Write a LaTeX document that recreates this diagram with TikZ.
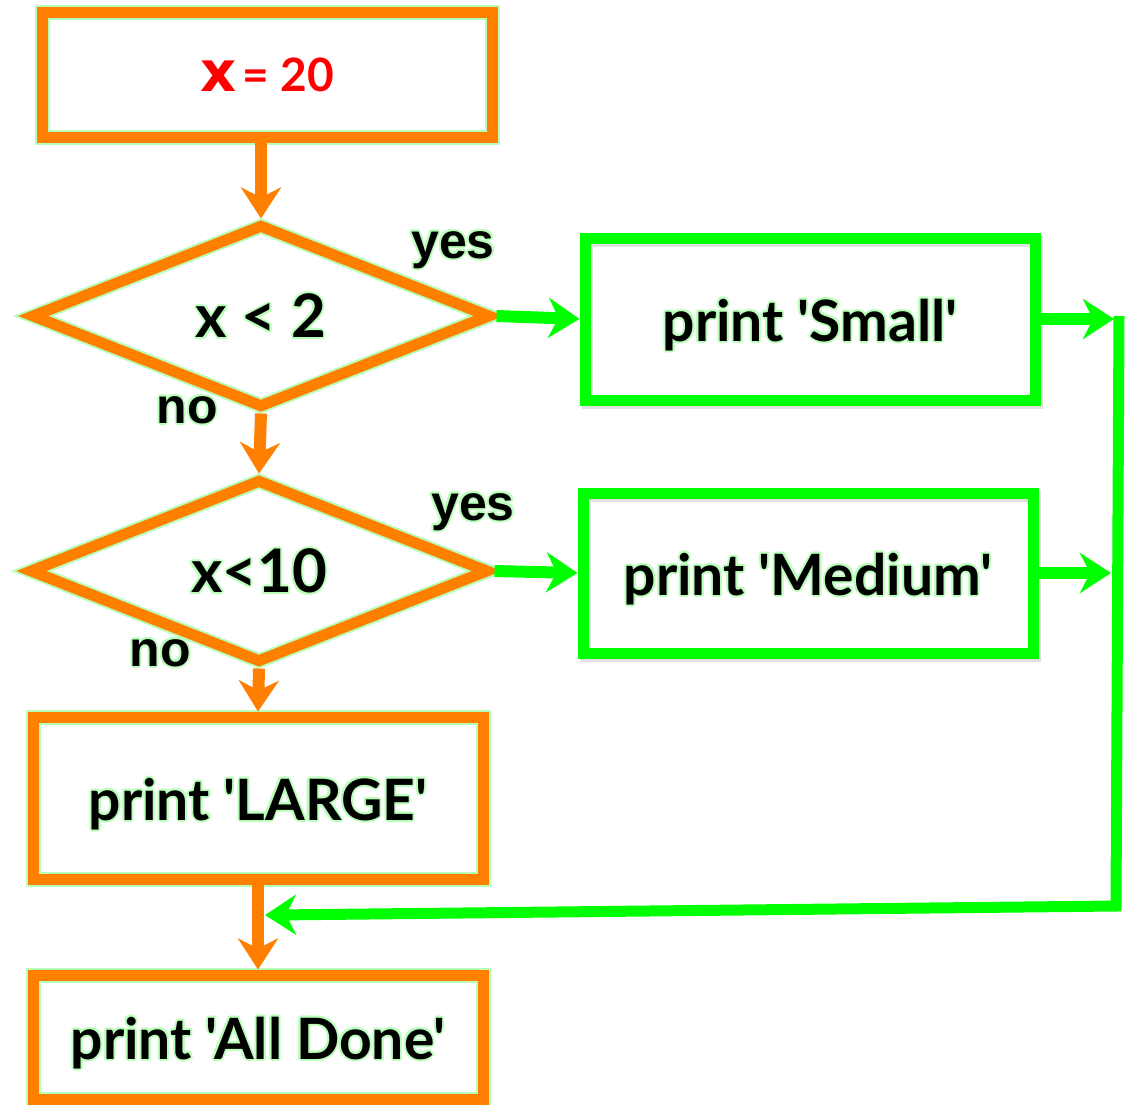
\documentclass[tikz,border=0pt]{standalone}
\usepackage{fontspec}
\usetikzlibrary{arrows.meta,shapes.geometric}
\newfontfamily\gill{Lato}
\newfontfamily\helv{Liberation Sans}
\newfontfamily\verd{DejaVu Sans}
\definecolor{orng}{RGB}{255,128,0}
\definecolor{grn}{RGB}{0,255,0}
\definecolor{halo}{RGB}{185,255,185}
\newcommand\halotxt[1]{\setbox0\hbox{#1}%
  \rlap{\kern1pt\textcolor{halo}{\copy0}}%
  \rlap{\kern-1pt\textcolor{halo}{\copy0}}%
  \rlap{\raisebox{1pt}{\textcolor{halo}{\copy0}}}%
  \rlap{\raisebox{-1pt}{\textcolor{halo}{\copy0}}}%
  \rlap{\kern.7pt\raisebox{.7pt}{\textcolor{halo}{\copy0}}}%
  \rlap{\kern-.7pt\raisebox{.7pt}{\textcolor{halo}{\copy0}}}%
  \rlap{\kern.7pt\raisebox{-.7pt}{\textcolor{halo}{\copy0}}}%
  \rlap{\kern-.7pt\raisebox{-.7pt}{\textcolor{halo}{\copy0}}}%
  \copy0}
\begin{document}
\begin{tikzpicture}[x=0.5pt,y=-0.5pt,
  obox/.style={draw=orng, line width=5.5pt, rectangle, inner sep=0pt, minimum width=225pt,
     preaction={draw=halo, line width=7.5pt}},
  gbox/.style={draw=grn, line width=5.5pt, rectangle, inner sep=0pt, minimum width=225pt,
     preaction={draw=black!12, line width=5.5pt, transform canvas={xshift=1pt,yshift=-1.5pt}}},
  decis/.style={draw=orng, line width=5.5pt, diamond, inner sep=0pt, aspect=2.5,
     minimum width=230pt, minimum height=92pt, preaction={draw=halo, line width=7.5pt}},
  tip/.tip={Stealth[length=15.5pt, width=20pt, inset=5pt]},
  oarr/.style={draw=orng, line width=6pt, -tip},
  garr/.style={draw=grn, line width=6pt, -tip},
  gline/.style={draw=grn, line width=5.5pt},
  big/.style={font=\gill\bfseries\fontsize{28.5}{31}\selectfont, text=black, text depth=0pt},
  cond/.style={font=\gill\bfseries\fontsize{30}{34}\selectfont, text=black},
  yn/.style={font=\helv\bfseries\fontsize{25}{28}\selectfont, text=black}]
\useasboundingbox (0,0) rectangle (1125,1104);
\fill[white] (0,0) rectangle (1125,1104);

\node[obox, minimum height=62.5pt] (top) at (267,74.5)
  {\textcolor{red}{{\verd\bfseries\fontsize{28}{30}\selectfont x} {\gill\bfseries\fontsize{23}{26}\selectfont = 20}}};
\node[decis, cond] (d1) at (261,316) {\halotxt{x < 2}};
\node[decis, cond] (d2) at (259,571) {\halotxt{x<10}};
\node[gbox, big, minimum height=81pt] (small) at (810,319) {\halotxt{print 'Small'}};
\node[gbox, big, minimum height=80pt] (medium) at (808,573) {\halotxt{print 'Medium'}};
\node[obox, big, minimum height=81pt] (large) at (258,798) {\halotxt{print 'LARGE'}};
\node[obox, big, minimum height=62pt] (done) at (258,1037) {\halotxt{print 'All Done'}};

\node[yn] (yes1) at (453,250) {\halotxt{yes}};
\node[yn] (no1) at (187,410) {\halotxt{no}};
\node[yn] (yes2) at (473,512) {\halotxt{yes}};
\node[yn] (no2) at (160,653) {\halotxt{no}};

\coordinate (r1) at (1114,319);
\coordinate (r2) at (1111,573);
\coordinate (rt) at (1119,316);
\coordinate (rb) at (1116,906);

\draw[oarr] (top.south -| d1.north) -- (d1.north);
\draw[oarr] (d1.south) -- (d2.north);
\draw[oarr] (d2.south) -- (large.north);
\draw[oarr] (large.south) -- coordinate[pos=0.36] (j) (done.north);

\draw[garr] (d1.east) -- (small.west);
\draw[garr] (d2.east) -- (medium.west);
\draw[garr] (small.east) -- (r1);
\draw[garr] (medium.east) -- (r2);
\draw[gline, -tip] (rt) -- (rb) -- ([xshift=3.5pt]j);
\end{tikzpicture}
\end{document}
